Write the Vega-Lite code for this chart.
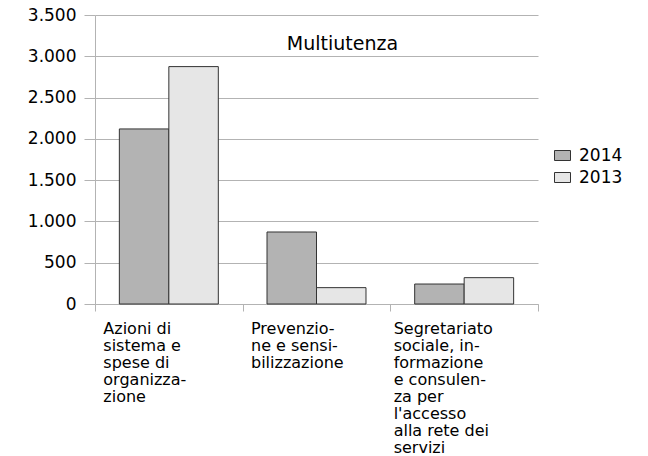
{
  "$schema": "https://vega.github.io/schema/vega-lite/v6.json",
  "width": 443,
  "height": 289,
  "autosize": {"type": "none"},
  "padding": {"left": 95, "top": 15, "right": 110, "bottom": 152},
  "background": "white",
  "title": {
    "text": "Multiutenza",
    "anchor": "middle",
    "frame": "group",
    "orient": "top",
    "baseline": "alphabetic",
    "offset": 0,
    "dx": 26,
    "dy": 63,
    "font": "DejaVu Sans",
    "fontSize": 19,
    "fontWeight": "normal",
    "color": "#000000"
  },
  "config": {
    "view": {"stroke": null},
    "font": "DejaVu Sans"
  },
  "data": {
    "values": [
      {"categoria": "Azioni di sistema e spese di organizzazione", "anno": "2014", "valore": 2120},
      {"categoria": "Azioni di sistema e spese di organizzazione", "anno": "2013", "valore": 2875},
      {"categoria": "Prevenzione e sensibilizzazione", "anno": "2014", "valore": 872},
      {"categoria": "Prevenzione e sensibilizzazione", "anno": "2013", "valore": 198},
      {"categoria": "Segretariato sociale, informazione e consulenza per l'accesso alla rete dei servizi", "anno": "2014", "valore": 242},
      {"categoria": "Segretariato sociale, informazione e consulenza per l'accesso alla rete dei servizi", "anno": "2013", "valore": 319}
    ]
  },
  "mark": {"type": "bar", "stroke": "#333333", "strokeWidth": 1},
  "encoding": {
    "x": {
      "field": "categoria",
      "type": "nominal",
      "sort": null,
      "scale": {"paddingInner": 0, "paddingOuter": 0},
      "axis": {
        "title": null,
        "labelAngle": 0,
        "labelAlign": "left",
        "labelBaseline": "top",
        "labelFont": "DejaVu Sans",
        "labelFontSize": 16,
        "labelLineHeight": 17,
        "labelColor": "#000000",
        "labelLimit": 0,
        "labelPadding": 9,
        "labelOffset": {"condition": {"test": "datum.value == \"Segretariato sociale, informazione e consulenza per l'accesso alla rete dei servizi\"", "value": -71}, "value": -66},
        "labelExpr": "datum.label == 'Azioni di sistema e spese di organizzazione' ? ['Azioni di', 'sistema e', 'spese di', 'organizza-', 'zione'] : datum.label == 'Prevenzione e sensibilizzazione' ? ['Prevenzio-', 'ne e sensi-', 'bilizzazione'] : datum.label == \"Segretariato sociale, informazione e consulenza per l'accesso alla rete dei servizi\" ? ['Segretariato', 'sociale, in-', 'formazione', 'e consulen-', 'za per', \"l'accesso\", 'alla rete dei', 'servizi'] : ''",
        "tickBand": "extent",
        "tickSize": 7,
        "tickColor": "#b3b3b3",
        "domainColor": "#b3b3b3",
        "grid": false
      }
    },
    "xOffset": {
      "field": "anno",
      "type": "nominal",
      "sort": ["2014", "2013"],
      "scale": {"paddingInner": 0, "paddingOuter": 0.492}
    },
    "y": {
      "field": "valore",
      "type": "quantitative",
      "scale": {"domain": [0, 3500], "nice": false},
      "axis": {
        "title": null,
        "values": [0, 500, 1000, 1500, 2000, 2500, 3000, 3500],
        "labelExpr": "replace(format(datum.value, ','), ',', '.')",
        "labelFont": "DejaVu Sans",
        "labelFontSize": 17,
        "labelColor": "#000000",
        "labelPadding": 8,
        "tickSize": 11,
        "tickColor": "#b3b3b3",
        "domainColor": "#b3b3b3",
        "gridColor": "#b3b3b3",
        "grid": true
      }
    },
    "color": {
      "field": "anno",
      "type": "nominal",
      "sort": ["2014", "2013"],
      "scale": {"domain": ["2014", "2013"], "range": ["#b3b3b3", "#e6e6e6"]},
      "legend": {
        "title": null,
        "orient": "none",
        "legendX": 459,
        "legendY": 132,
        "padding": 0,
        "symbolType": "M-1,-0.625H1V0.625H-1Z",
        "symbolSize": 256,
        "symbolStrokeColor": "#333333",
        "symbolStrokeWidth": 1,
        "symbolOpacity": 1,
        "labelFont": "DejaVu Sans",
        "labelFontSize": 17,
        "labelColor": "#000000",
        "labelOffset": 8,
        "rowPadding": 4
      }
    }
  }
}
